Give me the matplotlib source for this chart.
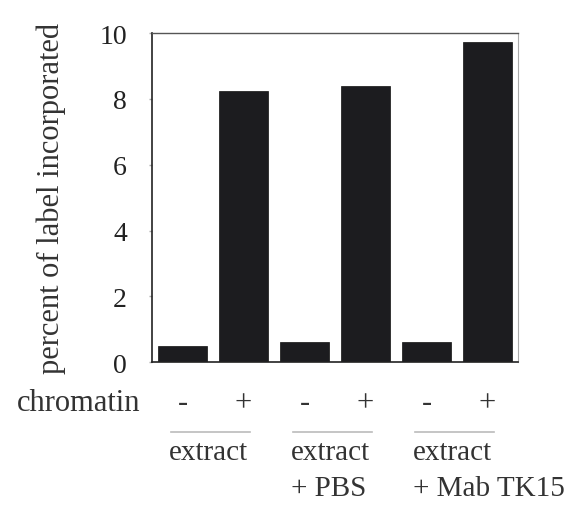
import numpy as np
import matplotlib
matplotlib.use('Agg')
import matplotlib.pyplot as plt
import matplotlib.transforms as mtransforms

# values
chromatin = ['-', '+', '-', '+', '-', '+']
values = [0.5, 8.25, 0.6, 8.4, 0.6, 9.73]
groups = ['extract', 'extract\n+ PBS', 'extract\n+ Mab TK15']
yticks = [0, 2, 4, 6, 8, 10]

plt.rcParams['font.family'] = ['Liberation Serif', 'DejaVu Serif']

fig = plt.figure(figsize=(5.8, 5.1), dpi=100)
ax = fig.add_axes([0.262, 0.288, 0.631, 0.645])

x = np.arange(len(values))
ax.bar(x, values, width=0.8, color='#1c1c1f', edgecolor='#111111', linewidth=0.5)

ax.set_xlim(-0.5, 5.5)
ax.set_ylim(0, 10)
ax.set_yticks(yticks)
ax.set_yticklabels([str(t) for t in yticks], fontsize=20, color='#222222')
ax.tick_params(axis='y', length=2, width=1, color='#aaaaaa', pad=16)
ax.set_xticks([])

for s in ['left', 'bottom']:
    ax.spines[s].set_color('#222222')
    ax.spines[s].set_linewidth(1.2)
ax.spines['top'].set_color('#555555')
ax.spines['top'].set_linewidth(1.0)
ax.spines['right'].set_color('#aaaaaa')
ax.spines['right'].set_linewidth(0.8)

ax.set_ylabel('percent of label incorporated', fontsize=22, color='#333333', labelpad=24)

# annotation rows below the axis
trans = mtransforms.blended_transform_factory(ax.transData, fig.transFigure)
fig.text(0.242, 0.208, 'chromatin', fontsize=22, color='#333333', ha='right', va='center')
for xi, c in zip(x, chromatin):
    ax.text(xi, 0.208, c, transform=trans, fontsize=22, color='#333333',
            ha='center', va='center', clip_on=False)

for g, lab in enumerate(groups):
    start = 2 * g
    ax.plot([start - 0.18, start + 1.1], [0.151, 0.151], transform=trans,
            color='#bbbbbb', linewidth=1.2, clip_on=False)
    ax.text(start - 0.22, 0.138, lab, transform=trans, fontsize=21, color='#333333',
            ha='left', va='top', linespacing=1.5, clip_on=False)

fig.savefig('out.png', dpi=100, facecolor='white')
